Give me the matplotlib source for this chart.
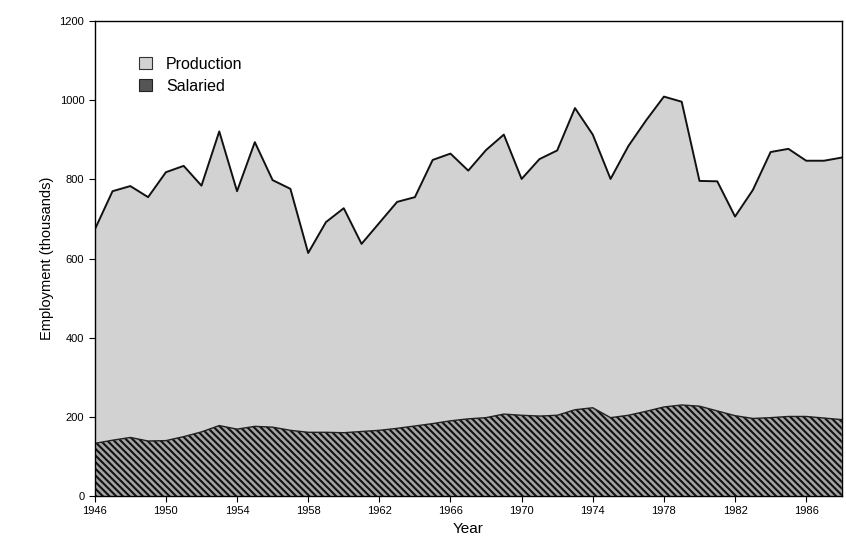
import matplotlib
matplotlib.use("Agg")
import matplotlib.pyplot as plt
from matplotlib.patches import Patch

plt.rcParams['font.family'] = ['Liberation Sans', 'DejaVu Sans']
plt.rcParams['hatch.linewidth'] = 1.5

# annual data, thousands
years = list(range(1946, 1989))
total = [673, 770, 783, 755, 818, 834, 784, 921, 770, 894,
         798, 776, 614, 692, 727, 637, 690, 743, 755, 849,
         865, 822, 874, 913, 801, 851, 873, 980, 913, 801,
         884, 949, 1009, 996, 796, 795, 706, 773, 869, 877,
         847, 847, 855]
salaried = [133, 141, 148, 139, 140, 150, 162, 178, 169, 176,
            174, 166, 161, 161, 160, 163, 166, 171, 177, 183,
            190, 195, 198, 207, 204, 202, 204, 218, 223, 198,
            204, 214, 225, 230, 227, 215, 203, 196, 198, 201,
            201, 197, 193]
yticks = [0, 200, 400, 600, 800, 1000, 1200]
xticks = list(range(1946, 1990, 4))

prod_col = '#d2d2d2'
sal_col = '#a4a4a4'
sal_hatch = '\\\\\\\\\\'

fig = plt.figure(figsize=(8.46, 5.38), dpi=100)
ax = fig.add_axes([0.112, 0.078, 0.883, 0.883])

# production band sits on top of salaried
ax.fill_between(years, salaried, total, facecolor=prod_col, edgecolor='none')
ax.plot(years, total, color='#111111', lw=1.4)

ax.fill_between(years, 0, salaried, facecolor=sal_col, edgecolor='#111111',
                hatch=sal_hatch, lw=0)
ax.plot(years, salaried, color='#222222', lw=1.0)

ax.set_xlim(1946, 1988)
ax.set_ylim(0, 1200)
ax.set_yticks(yticks)
ax.set_xticks(xticks)
ax.tick_params(direction='out', length=4, width=0.8, labelsize=8)
for s in ax.spines.values():
    s.set_linewidth(1.0)

ax.set_xlabel('Year', fontsize=11)
ax.set_ylabel('Employment (thousands)', fontsize=10.5, labelpad=4)

handles = [Patch(facecolor=prod_col, edgecolor='#333333', lw=0.8, label='Production'),
           Patch(facecolor='#555555', edgecolor='#222222', lw=0.8, label='Salaried')]
ax.legend(handles=handles, loc='upper left', bbox_to_anchor=(0.04, 0.955),
          frameon=False, fontsize=11.5, handlelength=0.8, handleheight=0.8,
          handletextpad=0.9, labelspacing=0.45)

plt.savefig('out.png', dpi=100)
